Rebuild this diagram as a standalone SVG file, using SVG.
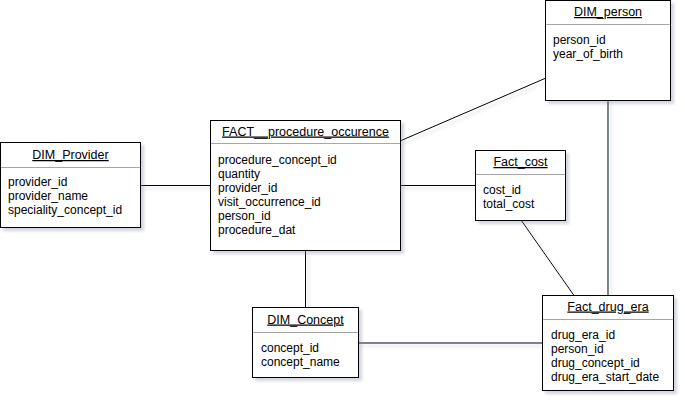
<svg xmlns="http://www.w3.org/2000/svg" width="685" height="402" viewBox="0 0 685 402">
<style>
.box{fill:#fff;stroke:#000;stroke-width:1}
.div{stroke:#a6a6a6;stroke-width:1}
.title{font-family:"Liberation Sans",Arial,sans-serif;font-size:12.5px;text-decoration:underline;text-anchor:middle;fill:#000}
.body{font-family:"Liberation Sans",Arial,sans-serif;font-size:12px;fill:#000}
.edge{stroke:#000;stroke-width:1;fill:none}
</style>
<defs>
<filter id="sh" x="-10%" y="-10%" width="130%" height="130%">
<feDropShadow dx="3" dy="3" stdDeviation="1.5" flood-color="#7f88a8" flood-opacity="0.35"/>
</filter>
</defs>
<rect width="685" height="402" fill="#fff"/>
<g id="connectors" filter="url(#sh)">
<line class="edge" x1="140" y1="185.5" x2="210" y2="185.5"/>
<line class="edge" x1="400" y1="141" x2="546" y2="78"/>
<line class="edge" x1="400" y1="185.5" x2="475" y2="185.5"/>
<line class="edge" x1="305.5" y1="250" x2="305.5" y2="307.5"/>
<line class="edge" x1="608" y1="100" x2="608" y2="295.5"/>
<line class="edge" x1="521" y1="220" x2="574" y2="295.5"/>
<line class="edge" x1="358" y1="343" x2="542.5" y2="343"/>
</g>
<g id="dim_provider">
<rect class="box" x="0.5" y="142.5" width="140" height="85" filter="url(#sh)"/>
<line class="div" x1="1" y1="167.5" x2="140" y2="167.5"/>
<text class="title" x="70.5" y="159">DIM_Provider</text>
<text class="body" x="8" y="185.5">provider_id</text>
<text class="body" x="8" y="199.5">provider_name</text>
<text class="body" x="8" y="213.5">speciality_concept_id</text>
</g>
<g id="fact_procedure_occurence">
<rect class="box" x="210.5" y="120.5" width="190" height="130" filter="url(#sh)"/>
<line class="div" x1="211" y1="143.5" x2="400" y2="143.5"/>
<text class="title" x="305.5" y="135.5">FACT__procedure_occurence</text>
<text class="body" x="218" y="163.5">procedure_concept_id</text>
<text class="body" x="218" y="177.5">quantity</text>
<text class="body" x="218" y="191.5">provider_id</text>
<text class="body" x="218" y="205.5">visit_occurrence_id</text>
<text class="body" x="218" y="219.5">person_id</text>
<text class="body" x="218" y="233.5">procedure_dat</text>
</g>
<g id="dim_person">
<rect class="box" x="545.5" y="0.5" width="125" height="100" filter="url(#sh)"/>
<line class="div" x1="546" y1="24.5" x2="670" y2="24.5"/>
<text class="title" x="608" y="16">DIM_person</text>
<text class="body" x="553" y="43.5">person_id</text>
<text class="body" x="553" y="57.5">year_of_birth</text>
</g>
<g id="fact_cost">
<rect class="box" x="475.5" y="150.5" width="90" height="70" filter="url(#sh)"/>
<line class="div" x1="476" y1="174.5" x2="565" y2="174.5"/>
<text class="title" x="520.5" y="166">Fact_cost</text>
<text class="body" x="483" y="193.5">cost_id</text>
<text class="body" x="483" y="207.5">total_cost</text>
</g>
<g id="dim_concept">
<rect class="box" x="252.5" y="307.5" width="106" height="70" filter="url(#sh)"/>
<line class="div" x1="253" y1="332.5" x2="358" y2="332.5"/>
<text class="title" x="305.5" y="323.5">DIM_Concept</text>
<text class="body" x="261" y="351.5">concept_id</text>
<text class="body" x="261" y="365.5">concept_name</text>
</g>
<g id="fact_drug_era">
<rect class="box" x="542.5" y="295.5" width="131" height="95" filter="url(#sh)"/>
<line class="div" x1="543" y1="319.5" x2="673" y2="319.5"/>
<text class="title" x="608" y="310.5">Fact_drug_era</text>
<text class="body" x="551" y="338.5">drug_era_id</text>
<text class="body" x="551" y="352.5">person_id</text>
<text class="body" x="551" y="366.5">drug_concept_id</text>
<text class="body" x="551" y="380.5">drug_era_start_date</text>
</g>
</svg>
